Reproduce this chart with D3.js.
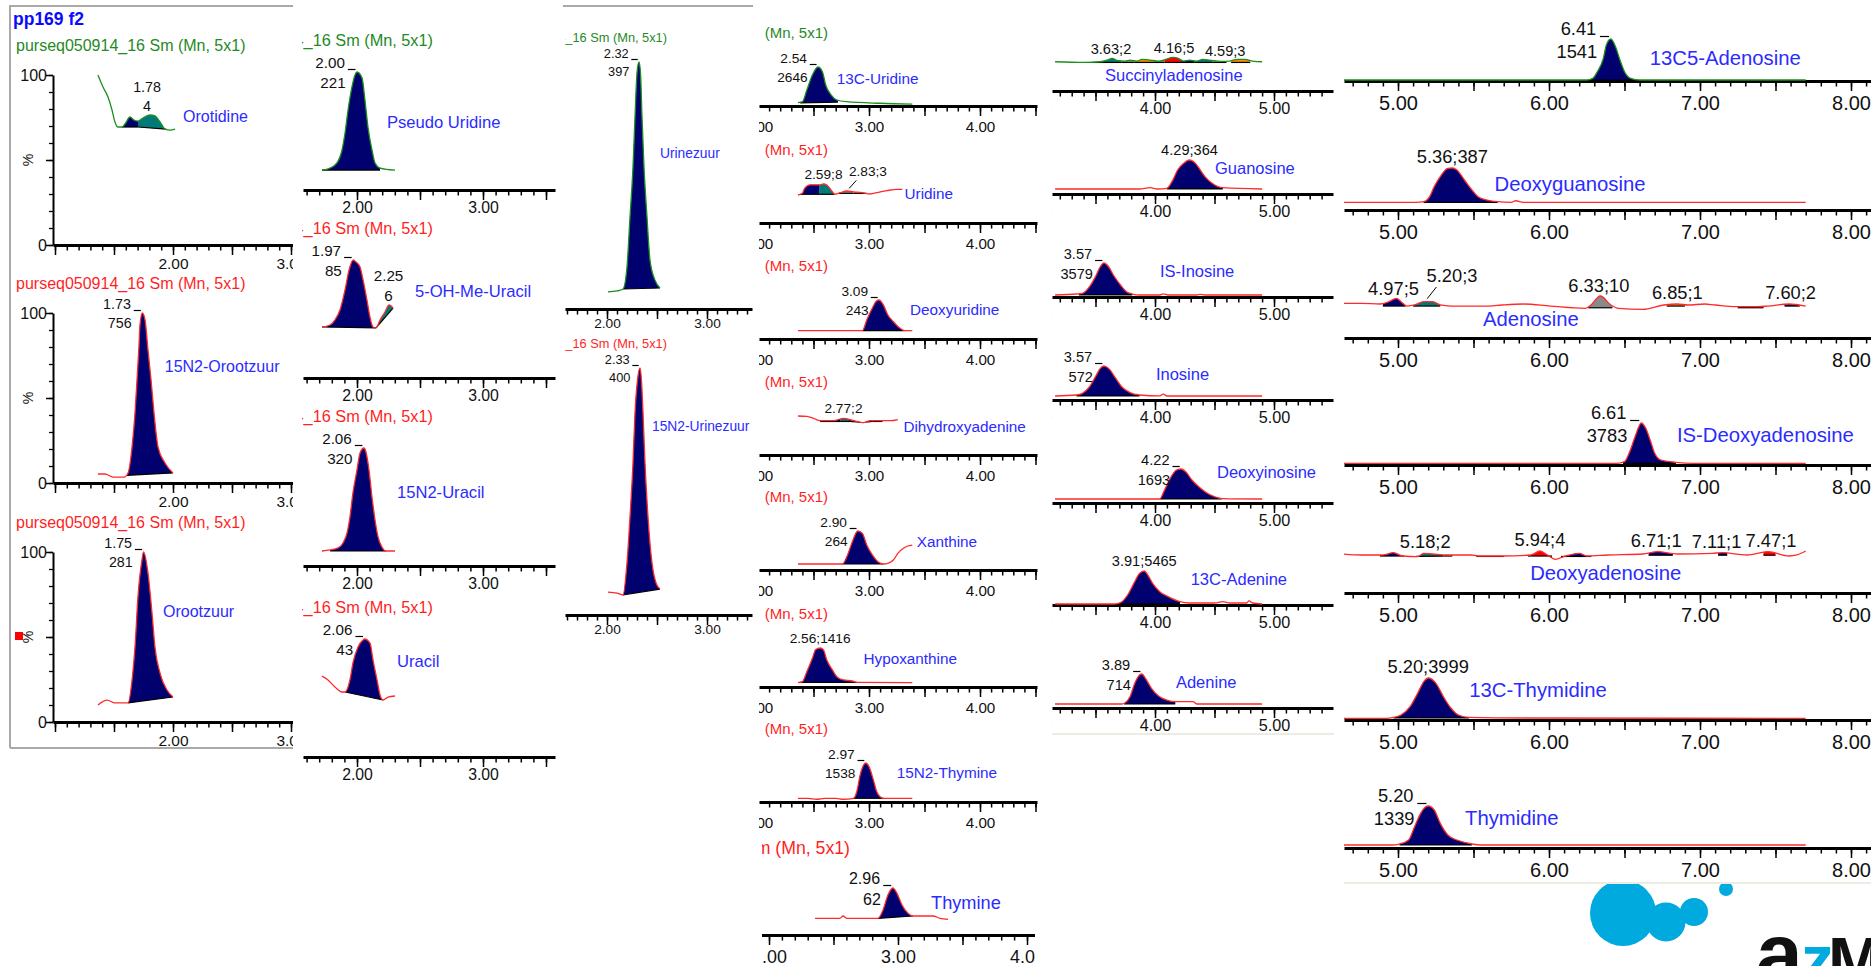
<!DOCTYPE html>
<html><head><meta charset="utf-8">
<script src="https://cdn.jsdelivr.net/npm/d3@7"></script>
<style>body{margin:0;background:#fff}svg{display:block}text{font-family:"Liberation Sans",Arial,sans-serif}</style>
</head><body>
<script>
// ================= DATA =================
const header = "purseq050914_16 Sm (Mn, 5x1)";
const compounds = ["Orotidine","15N2-Orootzuur","Orootzuur","Pseudo Uridine","5-OH-Me-Uracil","15N2-Uracil","Uracil",
  "Urinezuur","15N2-Urinezuur","13C-Uridine","Uridine","Deoxyuridine","Dihydroxyadenine","Xanthine","Hypoxanthine",
  "15N2-Thymine","Thymine","Succinyladenosine","Guanosine","IS-Inosine","Inosine","Deoxyinosine","13C-Adenine","Adenine",
  "13C5-Adenosine","Deoxyguanosine","Adenosine","IS-Deoxyadenosine","Deoxyadenosine","13C-Thymidine","Thymidine"];

// traces: [retention time (min), relative intensity %]
const trOrotidine = [[1.364,100],[1.407,92.9],[1.449,87.1],[1.483,79.4],[1.508,72.4],[1.534,69.4],[1.568,69.4],[1.593,71.2],[1.636,75.3],[1.669,73.5],[1.703,72.9],[1.746,74.7],[1.805,76.5],[1.847,75.9],[1.89,72.4],[1.932,68.2],[1.975,67.6],[2.017,68.2]];
const trN15Orootzuur = [[1.364,5.3],[1.424,5.3],[1.492,3.5],[1.585,3.5],[1.619,5.9],[1.653,21.2],[1.678,41.2],[1.695,60.6],[1.712,81.2],[1.72,92.9],[1.74,100],[1.763,95.9],[1.788,78.2],[1.814,60.6],[1.839,41.2],[1.873,21.2],[1.932,11.8],[2.0,5.9]];
const trOrootzuur = [[1.364,10],[1.441,12.9],[1.508,11.2],[1.619,11.2],[1.653,24.7],[1.678,44.1],[1.703,73.5],[1.737,95.3],[1.75,100],[1.788,87.6],[1.822,64.1],[1.847,44.1],[1.89,28.8],[1.949,18.8],[2.0,14.7]];
const trPseudoUridine = [[1.722,16.9],[1.786,18.6],[1.841,22.9],[1.881,33.9],[1.905,48.3],[1.929,67.8],[1.96,87.3],[1.984,97.5],[2.0,100],[2.04,94.9],[2.063,76.3],[2.087,53.4],[2.119,33.9],[2.143,22.9],[2.183,18.6],[2.302,16.9]];
const trOHMeUracil = [[1.722,43.2],[1.786,44.9],[1.825,49.2],[1.865,57.6],[1.905,74.6],[1.937,91.5],[1.97,100],[1.992,98.3],[2.024,94.1],[2.048,83.1],[2.079,66.1],[2.103,51.7],[2.127,43.2],[2.151,42.4],[2.183,49.2],[2.222,55.9],[2.254,61.9],[2.286,59.3]];
const trN15Uracil = [[1.722,12.7],[1.786,13.6],[1.849,15.3],[1.889,19.5],[1.921,28],[1.944,41.5],[1.968,61.9],[2.0,81.4],[2.024,95.8],[2.055,100],[2.071,96.6],[2.095,81.4],[2.119,58.5],[2.143,39],[2.167,24.6],[2.198,16.1],[2.23,12.7],[2.302,12.7]];
const trUracil = [[1.722,68.6],[1.77,65.3],[1.825,59.3],[1.881,55.1],[1.905,55.1],[1.944,65.3],[1.968,79.7],[2.008,93.2],[2.048,99.2],[2.06,100],[2.103,96.6],[2.127,82.2],[2.159,65.3],[2.183,52.5],[2.206,48.3],[2.246,50.8],[2.302,51.7]];
const trUrinezuur = [[2.01,6.9],[2.1,7.3],[2.16,8.1],[2.2,17],[2.23,37.2],[2.26,57.5],[2.28,77.7],[2.3,95.5],[2.32,100],[2.335,95.5],[2.35,77.7],[2.37,57.5],[2.4,37.2],[2.43,19.8],[2.48,11.7],[2.53,8.5]];
const trN15Urinezuur = [[2.01,9.3],[2.1,8.9],[2.16,8.1],[2.2,21.1],[2.23,39.7],[2.26,61.5],[2.28,81.8],[2.305,95.1],[2.33,100],[2.345,94.7],[2.36,81.8],[2.38,61.5],[2.41,39.7],[2.45,21.1],[2.49,13],[2.53,10.5]];
const trC13Uridine = [[2.36,8.5],[2.4,11],[2.44,41],[2.49,79.5],[2.54,100],[2.58,88],[2.61,54],[2.66,28],[2.71,15.4],[2.8,11],[3.1,7],[3.39,5]];
const trUridine = [[2.36,71.8],[2.4,76.2],[2.42,89],[2.47,98],[2.56,98],[2.59,100],[2.62,97.4],[2.67,80],[2.69,74],[2.74,77.7],[2.8,82],[2.86,80],[2.94,77.7],[3.01,74.4],[3.07,77.7],[3.16,82.8],[3.25,86.4],[3.3,86.4]];
const trDeoxyuridine = [[2.36,21.3],[2.94,21.3],[2.98,48.7],[3.03,79.5],[3.065,97],[3.09,100],[3.13,87],[3.17,61.5],[3.22,44.4],[3.28,27.4],[3.32,21.3],[3.39,21.3]];
const trDihydroxyadenine = [[2.36,100],[2.44,99],[2.5,94],[2.56,88],[2.68,88],[2.77,94],[2.86,88],[2.95,83],[3.01,88],[3.1,88],[3.19,88],[3.26,91]];
const trXanthine = [[2.36,15.4],[2.76,15.4],[2.8,34],[2.85,72.6],[2.89,98],[2.9,100],[2.94,94],[2.98,64],[3.03,38.5],[3.08,21.3],[3.13,15.4],[3.17,17.2],[3.22,25.6],[3.26,42.8],[3.31,55.6],[3.35,61.5],[3.39,64]];
const trHypoxanthine = [[2.36,11],[2.4,13.6],[2.44,39],[2.49,73.5],[2.52,96],[2.56,100],[2.59,95],[2.62,69],[2.67,44],[2.71,26.5],[2.77,18],[2.85,15.4],[2.89,12],[3.39,11]];
const trN15Thymine = [[2.36,9.5],[2.45,9.5],[2.53,7],[2.6,9.5],[2.7,9.5],[2.77,7],[2.86,9.5],[2.89,26.4],[2.92,69],[2.95,94],[2.97,100],[3.0,90.6],[3.04,56],[3.07,26.4],[3.1,13.6],[3.13,9.5],[3.39,9.5]];
const trThymine = [[2.357,35.5],[2.55,35.5],[2.574,40.4],[2.605,35.5],[2.845,35.5],[2.884,53.2],[2.922,85],[2.96,100],[2.992,88.7],[3.031,63.8],[3.078,46],[3.116,40.4],[3.186,40.4],[3.271,40.4],[3.326,35.5],[3.388,33.3]];
const trSuccinyladenosine = [[3.16,86],[3.41,84],[3.54,86],[3.6,91],[3.64,96],[3.68,90],[3.75,88],[3.79,91],[3.85,88],[3.89,93],[3.96,91],[4.03,88],[4.09,93],[4.15,99],[4.19,97],[4.24,88],[4.29,91],[4.35,88],[4.4,93],[4.46,91],[4.55,87],[4.63,88],[4.69,93],[4.76,93],[4.82,88],[4.9,86]];
const trGuanosine = [[3.16,14.7],[3.87,14.7],[3.96,19],[4.02,14.7],[4.1,16.8],[4.15,41],[4.19,70.6],[4.24,90],[4.29,100],[4.34,90],[4.38,70.6],[4.42,51],[4.48,31.5],[4.53,21.5],[4.57,18.5],[4.9,14.7]];
const trISInosine = [[3.16,5.9],[3.34,8.8],[3.39,10.9],[3.45,30.4],[3.5,59.8],[3.54,89],[3.57,100],[3.61,89],[3.65,64.7],[3.71,35.3],[3.76,15.7],[3.81,8.8],[3.87,5.9],[4.04,5.9],[4.07,9],[4.11,5.9],[4.35,5.9],[4.38,8],[4.42,5.9],[4.9,5.9]];
const trInosine = [[3.16,11.8],[3.34,14.7],[3.39,19.6],[3.45,39],[3.5,68.6],[3.54,93],[3.57,100],[3.61,93],[3.67,63.7],[3.72,39],[3.79,21.6],[3.87,14.7],[4.04,12],[4.07,17],[4.1,11.8],[4.9,11.8]];
const trDeoxyinosine = [[3.16,11.8],[4.04,11.8],[4.08,38],[4.13,73.5],[4.18,97],[4.22,100],[4.26,91],[4.31,67.6],[4.38,44],[4.45,26.5],[4.51,17.6],[4.56,13],[4.9,11.8]];
const trC13Adenine = [[3.16,3],[3.66,3],[3.71,6.8],[3.77,29.4],[3.83,68.6],[3.87,93],[3.91,100],[3.94,88],[3.98,63.7],[4.04,39],[4.11,24.5],[4.21,9.8],[4.29,5.9],[4.5,5.9],[4.57,9.8],[4.63,5.9],[4.77,5.9],[4.79,12],[4.82,5.9],[4.9,3]];
const trAdenine = [[3.16,11.8],[3.72,11.8],[3.75,15.6],[3.79,33],[3.83,72.5],[3.87,97],[3.89,100],[3.92,87],[3.97,58],[4.03,35.3],[4.1,23.5],[4.17,18.6],[4.32,18.6],[4.35,11.8],[4.9,11.8]];
const trC13Adenosine = [[4.63,2.4],[6.25,2.4],[6.29,6.4],[6.32,22],[6.36,54],[6.38,86],[6.41,100],[6.44,82],[6.47,50],[6.5,22],[6.54,6.4],[6.6,2.4],[7.7,2.4]];
const trDeoxyguanosine = [[4.63,18.3],[5.12,18.3],[5.17,19.8],[5.21,31.7],[5.24,55.6],[5.28,79.4],[5.33,99.3],[5.36,100],[5.39,95],[5.44,71.4],[5.49,47.6],[5.53,31.7],[5.59,23.8],[5.66,19.8],[5.75,18.3],[5.78,22],[5.83,18.3],[7.7,18.3]];
const trAdenosine = [[4.63,82.5],[4.76,82.5],[4.88,81],[4.94,86.5],[4.99,94.5],[5.02,86.5],[5.06,76],[5.11,78.6],[5.17,86.5],[5.23,86.5],[5.28,78.6],[5.35,76],[5.6,76],[5.69,78.6],[5.83,81],[6.01,76],[6.24,70.6],[6.27,76],[6.34,100],[6.41,78.6],[6.46,70.6],[6.62,68.3],[6.76,78.6],[6.85,81],[6.92,78.6],[7.03,81],[7.1,78.6],[7.24,74.6],[7.38,74.6],[7.45,76],[7.59,81],[7.7,76]];
const trISDeoxyadenosine = [[4.63,4],[6.45,4],[6.5,7.9],[6.53,27.8],[6.57,67.5],[6.6,95],[6.61,100],[6.64,88],[6.67,59.5],[6.7,27.8],[6.74,11.9],[6.84,6.4],[6.95,4],[7.7,4]];
const trDeoxyadenosine = [[4.63,92.9],[4.76,90.5],[4.9,90.5],[4.97,95.9],[5.03,88.1],[5.13,86.5],[5.17,94.5],[5.23,92.9],[5.32,90.5],[5.49,90.5],[5.53,88.1],[5.69,88.1],[5.88,90.5],[5.94,100],[5.99,90.5],[6.04,80.2],[6.11,88.1],[6.2,94.5],[6.25,88.1],[6.39,90.5],[6.62,92.9],[6.72,98.3],[6.85,92.9],[7.08,94.5],[7.15,96],[7.31,90.5],[7.45,98.3],[7.59,88.1],[7.64,90.5],[7.7,100]];
const trC13Thymidine = [[4.63,4],[4.92,4],[4.97,6.4],[5.02,11.9],[5.08,31.7],[5.13,63.5],[5.17,91],[5.2,100],[5.25,88],[5.3,56],[5.35,28.5],[5.4,11.9],[5.47,6.4],[5.85,4.8],[7.7,4]];
const trThymidine = [[4.63,7.1],[4.96,7.1],[5.01,9.5],[5.07,19],[5.11,50.8],[5.15,82.5],[5.18,96.9],[5.2,100],[5.24,90.5],[5.28,58.7],[5.33,31],[5.39,19],[5.45,12.7],[5.49,9.5],[5.55,7.1],[7.7,7.1]];

// integrated peaks: [start, end, baseline% at start, baseline% at end, peak class]
const pkOrotidine = [[1.568,1.703,69.4,69.4,"main"],[1.703,1.94,69.4,68.2,"alt"]];
const pkN15Orootzuur = [[1.61,2.0,4.5,5.9,"main"]];
const pkOrootzuur = [[1.619,2.0,11.2,14.7,"main"]];
const pkPseudoUridine = [[1.722,2.183,16.9,16.9,"main"]];
const pkOHMeUracil = [[1.722,2.151,43.2,42.4,"main"],[2.151,2.286,42.4,59.3,"alt"]];
const pkN15Uracil = [[1.786,2.23,12.7,12.7,"main"]];
const pkUracil = [[1.905,2.206,55.1,48.3,"main"]];
const pkUrinezuur = [[2.16,2.53,8.1,8.5,"main"]];
const pkN15Urinezuur = [[2.16,2.53,8.1,10.5,"main"]];
const pkC13Uridine = [[2.38,2.72,8,10,"main"]];
const pkUridine = [[2.38,2.55,73.6,73.6,"main"],[2.55,2.69,73.6,73.6,"alt"],[2.73,2.86,76,76,"grey"],[2.86,2.98,76,76,"orange"]];
const pkDeoxyuridine = [[2.94,3.32,21.3,21.3,"main"]];
const pkDihydroxyadenine = [[2.56,2.74,86,86,"main"],[2.74,2.82,86,86,"alt"],[2.82,2.92,86,84,"main"],[2.97,3.03,84,86,"orange"],[3.03,3.12,86,86,"main"]];
const pkXanthine = [[2.76,3.13,15.4,15.4,"main"]];
const pkHypoxanthine = [[2.38,2.89,12,12,"main"]];
const pkN15Thymine = [[2.86,3.13,9.5,9.5,"main"]];
const pkThymine = [[2.845,3.116,35.5,40.4,"main"]];
const pkSuccinyladenosine = [[3.47,3.56,84,84,"main"],[3.56,3.72,84,84,"alt"],[3.72,3.83,84,84,"grey"],[3.83,4.0,84,84,"orange"],[4.0,4.08,84,84,"grey"],[4.08,4.22,84,84,"red"],[4.22,4.33,84,84,"main"],[4.33,4.48,84,84,"alt"],[4.48,4.6,84,84,"grey"],[4.64,4.8,84,84,"orange"]];
const pkGuanosine = [[4.1,4.57,15,15,"main"]];
const pkISInosine = [[3.36,3.81,6,6,"main"]];
const pkInosine = [[3.34,3.87,12,12,"main"]];
const pkDeoxyinosine = [[4.04,4.56,11.8,12,"main"]];
const pkC13Adenine = [[3.69,4.21,3,3,"main"]];
const pkAdenine = [[3.74,4.17,11.8,12,"main"]];
const pkC13Adenosine = [[6.27,6.56,2.4,2.4,"main"]];
const pkDeoxyguanosine = [[5.17,5.66,18.3,18.3,"main"]];
const pkAdenosine = [[4.9,5.05,76,76,"main"],[5.1,5.28,76,76,"alt"],[6.26,6.42,72,72,"grey"],[6.78,6.9,76,76,"orange"],[7.25,7.42,72,72,"red"],[7.56,7.66,76,76,"main"]];
const pkISDeoxyadenosine = [[6.49,6.84,4,4,"main"]];
const pkDeoxyadenosine = [[4.88,5.04,88,88,"main"],[5.12,5.3,87,88,"alt"],[5.3,5.36,88,88,"grey"],[5.52,5.7,87,87,"main"],[5.86,6.02,88,88,"red"],[6.08,6.28,87,87,"main"],[6.66,6.82,90,90,"main"],[7.12,7.18,90,90,"main"],[7.42,7.5,90,90,"red"]];
const pkC13Thymidine = [[4.97,5.47,5,5,"main"]];
const pkThymidine = [[5.01,5.49,7.1,7.1,"main"]];

// peak annotations: [style, rt, rt text, area text]
const anOrotidine = [["c",1.78,"1.78","4"]];
const anN15Orootzuur = [["s",1.74,"1.73","756"]];
const anOrootzuur = [["s",1.75,"1.75","281"]];
const anPseudoUridine = [["s",2.0,"2.00","221"]];
const anOHMeUracil = [["s",1.97,"1.97","85"],["c",2.25,"2.25","6"]];
const anN15Uracil = [["s",2.055,"2.06","320"]];
const anUracil = [["s",2.06,"2.06","43"]];
const anUrinezuur = [["s",2.32,"2.32","397"]];
const anN15Urinezuur = [["s",2.33,"2.33","400"]];
const anC13Uridine = [["s",2.54,"2.54","2646"]];
const anUridine = [["i",2.59,"2.59","8"],["l",2.83,"2.83","3"]];
const anDeoxyuridine = [["s",3.09,"3.09","243"]];
const anDihydroxyadenine = [["i",2.77,"2.77","2"]];
const anXanthine = [["s",2.9,"2.90","264"]];
const anHypoxanthine = [["i",2.56,"2.56","1416"]];
const anN15Thymine = [["s",2.97,"2.97","1538"]];
const anThymine = [["s",2.96,"2.96","62"]];
const anSuccinyladenosine = [["i",3.63,"3.63","2"],["i",4.16,"4.16","5"],["i",4.59,"4.59","3"]];
const anGuanosine = [["i",4.29,"4.29","364"]];
const anISInosine = [["s",3.57,"3.57","3579"]];
const anInosine = [["s",3.57,"3.57","572"]];
const anDeoxyinosine = [["s",4.22,"4.22","1693"]];
const anC13Adenine = [["i",3.91,"3.91","5465"]];
const anAdenine = [["s",3.89,"3.89","714"]];
const anC13Adenosine = [["s",6.41,"6.41","1541"]];
const anDeoxyguanosine = [["i",5.36,"5.36","387"]];
const anAdenosine = [["i",4.97,"4.97","5"],["l",5.2,"5.20","3"],["i",6.33,"6.33","10"],["i",6.85,"6.85","1"],["i",7.6,"7.60","2"]];
const anISDeoxyadenosine = [["s",6.61,"6.61","3783"]];
const anDeoxyadenosine = [["i",5.18,"5.18","2"],["i",5.94,"5.94","4"],["i",6.71,"6.71","1"],["i",7.11,"7.11","1"],["i",7.47,"7.47","1"]];
const anC13Thymidine = [["i",5.2,"5.20","3999"]];
const anThymidine = [["s",5.2,"5.20","1339"]];

const traces = [trOrotidine,trN15Orootzuur,trOrootzuur,trPseudoUridine,trOHMeUracil,trN15Uracil,trUracil,trUrinezuur,trN15Urinezuur,
  trC13Uridine,trUridine,trDeoxyuridine,trDihydroxyadenine,trXanthine,trHypoxanthine,trN15Thymine,trThymine,
  trSuccinyladenosine,trGuanosine,trISInosine,trInosine,trDeoxyinosine,trC13Adenine,trAdenine,
  trC13Adenosine,trDeoxyguanosine,trAdenosine,trISDeoxyadenosine,trDeoxyadenosine,trC13Thymidine,trThymidine];
const peaks = [pkOrotidine,pkN15Orootzuur,pkOrootzuur,pkPseudoUridine,pkOHMeUracil,pkN15Uracil,pkUracil,pkUrinezuur,pkN15Urinezuur,
  pkC13Uridine,pkUridine,pkDeoxyuridine,pkDihydroxyadenine,pkXanthine,pkHypoxanthine,pkN15Thymine,pkThymine,
  pkSuccinyladenosine,pkGuanosine,pkISInosine,pkInosine,pkDeoxyinosine,pkC13Adenine,pkAdenine,
  pkC13Adenosine,pkDeoxyguanosine,pkAdenosine,pkISDeoxyadenosine,pkDeoxyadenosine,pkC13Thymidine,pkThymidine];
const annotations = [anOrotidine,anN15Orootzuur,anOrootzuur,anPseudoUridine,anOHMeUracil,anN15Uracil,anUracil,anUrinezuur,anN15Urinezuur,
  anC13Uridine,anUridine,anDeoxyuridine,anDihydroxyadenine,anXanthine,anHypoxanthine,anN15Thymine,anThymine,
  anSuccinyladenosine,anGuanosine,anISInosine,anInosine,anDeoxyinosine,anC13Adenine,anAdenine,
  anC13Adenosine,anDeoxyguanosine,anAdenosine,anISDeoxyadenosine,anDeoxyadenosine,anC13Thymidine,anThymidine];
// trace channel per compound
const channel = ["green","red","red","green","red","red","red","green","red","green","red","red","red","red","red","red","red",
  "green","red","red","red","red","red","red","green","red","red","red","red","red","red"];

// ================= LAYOUT =================
const W = 1871, H = 966;
const COLS = {
  c1:{clip:[11,293],ax:[53,293],tRef:2,xRef:173,ppm:118,span:170,fsTick:15.5,fsPk:14.3,fsName:16,fsHead:16,tickDy:24,head:[16,-194,"start"],headClip:11,yAxis:true,labelMin:1.5},
  c2:{clip:[302,556],ax:[303,555],tRef:2,xRef:357,ppm:126,span:118,fsTick:15.8,fsPk:15.2,fsName:16.6,fsHead:16.3,tickDy:23,head:[433,-144,"end"],headClip:302},
  c3:{clip:[563,753],ax:[565,752],tRef:2,xRef:607,ppm:100,span:247,fsTick:13.7,fsPk:12.8,fsName:13.8,fsHead:12.8,tickDy:19,head:[667,-267,"end"],headClip:565},
  c4:{clip:[759,1038],ax:[759,1037],tRef:3,xRef:869,ppm:111,span:39,fsTick:15.2,fsPk:13.7,fsName:15.3,fsHead:15,tickDy:25.5,head:[828,-68,"end"],headClip:763},
  c4b:{clip:[762,1035],ax:[760,1037],tRef:3,xRef:898,ppm:129,span:47,fsTick:17.9,fsPk:16,fsName:18.2,fsHead:17.7,tickDy:28,head:[850,-81,"end"],headClip:762},
  c5:{clip:[1052,1334],ax:[1052,1333],tRef:4,xRef:1155,ppm:119,span:34,fsTick:16.2,fsPk:14.6,fsName:16.5,tickDy:23},
  c6:{clip:[1344,1871],ax:[1344,1871],tRef:5,xRef:1398,ppm:151,span:42,fsTick:20,fsPk:18.3,fsName:20.3,tickDy:28.5}
};
// [column, x-axis y, name anchor rt, name anchor %]
const layout = [
  ["c1",245,2.085,72.4],["c1",483,1.93,65.3],["c1",722,1.915,61.8],
  ["c2",190,2.238,52.5],["c2",378,2.46,68.6],["c2",566,2.317,57.6],["c2",757,2.317,76.3],
  ["c3",309,2.53,61.1],["c3",615,2.45,74.5],
  ["c4",106,2.71,56.4],["c4",223,3.32,61.5],["c4",339,3.37,61.5],["c4",455,3.31,59],["c4",570,3.43,59],["c4",687,2.95,59],["c4",802,3.25,61.5],["c4b",935,3.256,55.3],
  ["c5",91,3.58,29.4],["c5",194,4.504,58.8],["c5",297,4.042,58.8],["c5",400,4.008,58.8],["c5",503,4.521,73.5],["c5",605,4.30,58.8],["c5",708,4.176,58.8],
  ["c6",81,6.667,38],["c6",210,5.639,45.2],["c6",338,5.5625,28.6],["c6",465,6.847,54.8],["c6",593,5.875,31],["c6",720,5.472,54.8],["c6",848,5.444,54.8]
];
const STY = {
  line:{green:"#1c8f1c",red:"#ff2a2a"}, head:{green:"#1f8a1f",red:"#ff1f1f"},
  name:"#2b2bff", text:"#111",
  fill:{main:"#00006e",alt:"#007a78",grey:"#8a8a8a",orange:"#ff8800",red:"#ff0000"}
};

const svg = d3.select("body").append("svg").attr("width",W).attr("height",H);
svg.append("rect").attr("width",W).attr("height",H).attr("fill","#fff");
const defs = svg.append("defs");
let uid = 0;
const fmt2 = d3.format(".2f");
function clipRect(x0,x1,y0,h){
  const id = "cl"+(uid++);
  defs.append("clipPath").attr("id",id).append("rect").attr("x",x0).attr("y",y0).attr("width",Math.max(0,x1-x0)).attr("height",h);
  return `url(#${id})`;
}
function valAt(tr,t){
  if(t<=tr[0][0]) return tr[0][1];
  for(let i=1;i<tr.length;i++){ if(tr[i][0]>=t){const a=tr[i-1],b=tr[i];return a[1]+(b[1]-a[1])*(t-a[0])/(b[0]-a[0]);} }
  return tr[tr.length-1][1];
}

// frames & decorations
const frame = svg.append("g").attr("stroke","#a9a9a9").attr("stroke-width",2).attr("fill","none");
frame.append("path").attr("d","M10,748 V6 H293 M10,748 H293");
frame.append("path").attr("d","M563,6 H753");
svg.append("line").attr("x1",1052).attr("x2",1334).attr("y1",734).attr("y2",734).attr("stroke","#ecece4").attr("stroke-width",2);
svg.append("line").attr("x1",1344).attr("x2",1871).attr("y1",883).attr("y2",883).attr("stroke","#ecece4").attr("stroke-width",2);
svg.append("text").attr("x",13).attr("y",25).attr("font-size",17.5).attr("font-weight","bold").attr("fill","#0a0aff").text("pp169 f2");
svg.append("rect").attr("x",15).attr("y",632).attr("width",8).attr("height",8).attr("fill","#ff0000");

layout.forEach((L,i)=>{
  const [ck,axisY,nT,nV] = L;
  const c = COLS[ck];
  const tr = traces[i], pk = peaks[i], an = annotations[i], ch = channel[i];
  const g = svg.append("g").attr("clip-path",clipRect(c.clip[0],c.clip[1],0,H));
  const tAt = px => c.tRef+(px-c.xRef)/c.ppm;
  const x = d3.scaleLinear().domain([tAt(c.ax[0]),tAt(c.ax[1])]).range(c.ax);
  const y = d3.scaleLinear().domain([0,100]).range([axisY,axisY-c.span]);

  if(c.head){
    svg.append("g").attr("clip-path",clipRect(c.headClip,c.clip[1],0,H))
      .append("text").attr("x",c.head[0]).attr("y",axisY+c.head[1]).attr("text-anchor",c.head[2])
      .attr("font-size",c.fsHead).attr("fill",STY.head[ch]).text(header);
  }
  // x axis
  const d = x.domain();
  const minor = d3.range(Math.ceil(d[0]*10-1e-6),Math.floor(d[1]*10+1e-6)+1).map(k=>k/10);
  const major = minor.filter(v=>Math.abs(v*2-Math.round(v*2))<1e-6);
  const lab = d3.range(Math.floor(tAt(c.clip[0]-40)),Math.ceil(tAt(c.clip[1]+40))+1).filter(v=>!(c.labelMin&&v<c.labelMin));
  const ga = g.append("g").attr("transform",`translate(0,${axisY})`);
  ga.append("g").call(d3.axisBottom(x).tickValues(minor).tickSize(5.5).tickSizeOuter(0).tickFormat(""))
    .call(s=>s.select(".domain").attr("stroke","#000").attr("stroke-width",3))
    .call(s=>s.selectAll(".tick line").attr("stroke","#000").attr("stroke-width",1.5));
  ga.append("g").call(d3.axisBottom(x).tickValues(major).tickSize(10).tickSizeOuter(0).tickFormat(""))
    .call(s=>s.select(".domain").remove())
    .call(s=>s.selectAll(".tick line").attr("stroke","#000").attr("stroke-width",1.5));
  ga.append("g").call(d3.axisBottom(x).tickValues(lab).tickSize(0).tickPadding(c.tickDy-0.71*c.fsTick).tickFormat(fmt2))
    .call(s=>s.select(".domain").remove())
    .call(s=>s.selectAll("text").attr("font-size",c.fsTick).attr("fill",STY.text));
  // y axis (first column only)
  if(c.yAxis){
    const gy = g.append("g").attr("transform",`translate(${c.ax[0]},0)`);
    gy.append("g").call(d3.axisLeft(y).tickValues(d3.range(0,101,10)).tickSize(4).tickSizeOuter(0).tickFormat(""))
      .call(s=>s.select(".domain").attr("stroke","#000").attr("stroke-width",2))
      .call(s=>s.selectAll(".tick line").attr("stroke","#000").attr("stroke-width",1.3));
    gy.append("g").call(d3.axisLeft(y).tickValues([0,50,100]).tickSize(7).tickFormat(""))
      .call(s=>s.select(".domain").remove()).call(s=>s.selectAll(".tick line").attr("stroke","#000").attr("stroke-width",1.5));
    gy.append("g").call(d3.axisLeft(y).tickValues([0,100]).tickSize(0).tickPadding(6).tickFormat(d3.format("d")))
      .call(s=>s.select(".domain").remove()).call(s=>s.selectAll("text").attr("font-size",16).attr("fill",STY.text));
    g.append("text").attr("transform",`translate(33,${y(50)}) rotate(-90)`).attr("text-anchor","middle")
      .attr("font-size",14).attr("fill",STY.text).text("%");
  }
  // integrated peak fills
  pk.forEach(([t0,t1,b0,b1,k])=>{
    const base = t => b0+(b1-b0)*(t-t0)/(t1-t0);
    const area = d3.area().x(p=>x(p[0])).y0(p=>y(base(p[0]))).y1(p=>y(p[1])).curve(d3.curveMonotoneX);
    g.append("path").attr("clip-path",clipRect(x(t0),x(t1),axisY-c.span-30,c.span+40)).attr("d",area(tr)).attr("fill",STY.fill[k]);
    g.append("line").attr("x1",x(t0)).attr("x2",x(t1)).attr("y1",y(b0)).attr("y2",y(b1)).attr("stroke","#000").attr("stroke-width",1.2);
  });
  // trace
  const line = d3.line().x(p=>x(p[0])).y(p=>y(p[1])).curve(d3.curveMonotoneX);
  g.append("path").attr("d",line(tr)).attr("fill","none").attr("stroke",STY.line[ch]).attr("stroke-width",1.3);
  // annotations
  const fs = c.fsPk;
  an.forEach(([kind,t,rt,ar])=>{
    const ax = x(t), ay = y(valAt(tr,t));
    const T = (xx,yy,s,anc)=>g.append("text").attr("x",xx).attr("y",yy).attr("text-anchor",anc).attr("font-size",fs).attr("fill",STY.text).text(s);
    if(kind==="s"){
      T(ax-0.8*fs, ay-4, rt, "end");
      g.append("line").attr("x1",ax-0.6*fs).attr("x2",ax-0.1*fs).attr("y1",ay-2.5).attr("y2",ay-2.5).attr("stroke","#000").attr("stroke-width",1.2);
      T(ax-0.75*fs, ay+fs+1, ar, "end");
    } else if(kind==="c"){
      T(ax, ay-fs-10, rt, "middle");
      T(ax, ay-5, ar, "middle");
    } else if(kind==="i"){
      T(ax, ay-5, rt+";"+ar, "middle");
    } else {
      T(ax+1.3*fs, ay-1.1*fs, rt+";"+ar, "middle");
      g.append("line").attr("x1",ax-1).attr("y1",ay-3).attr("x2",ax+0.45*fs).attr("y2",ay-0.8*fs).attr("stroke","#000").attr("stroke-width",1);
    }
  });
  // compound name
  g.append("text").attr("x",x(nT)).attr("y",y(nV)).attr("font-size",c.fsName).attr("fill",STY.name).text(compounds[i]);
});

// logo
const lg = svg.append("g").attr("clip-path",clipRect(1560,1871,884,90));
const logoBlue = "#00a9de";
[[1623,913,33],[1666,922,19.5],[1694,912,14],[1726,889,7]].forEach(([cx,cy,r])=>lg.append("circle").attr("cx",cx).attr("cy",cy).attr("r",r).attr("fill",logoBlue));
lg.append("text").attr("x",1756).attr("y",982).attr("font-size",84).attr("font-weight","bold").attr("fill","#111").text("a");
lg.append("text").attr("x",1801).attr("y",982).attr("font-size",66).attr("font-weight","bold").attr("fill",logoBlue).text("z");
lg.append("text").attr("x",1828).attr("y",984).attr("font-size",66).attr("font-weight","bold").attr("fill","#111").text("M");
</script>
</body></html>
